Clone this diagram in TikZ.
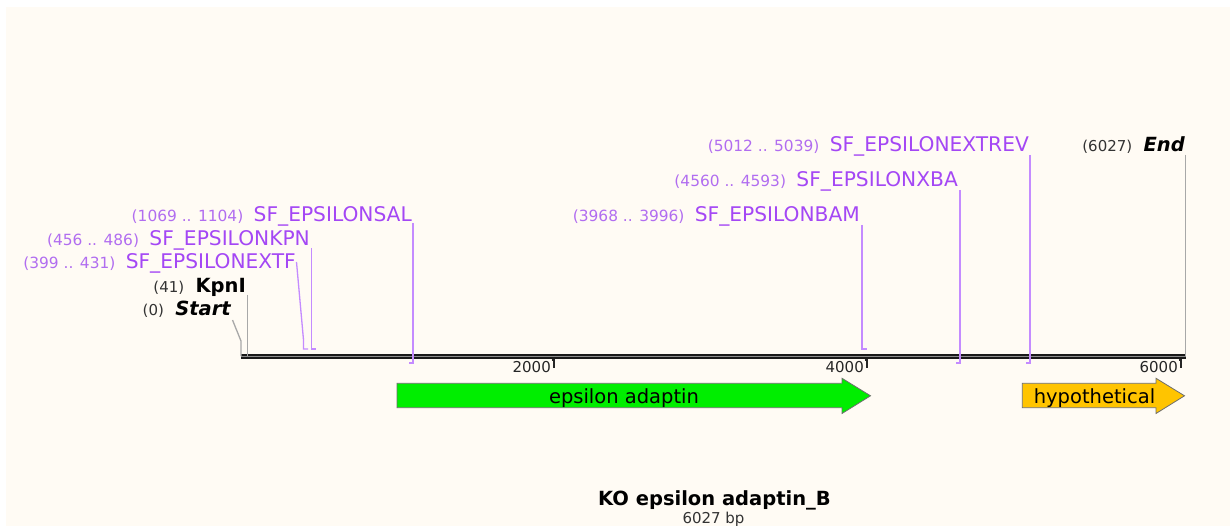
\documentclass[tikz,border=0pt]{standalone}
\usepackage{fontspec}
\setmainfont{DejaVu Sans}
\usepackage{tikz}
\usetikzlibrary{positioning}
\usetikzlibrary{calc}
\definecolor{bgcream}{HTML}{FFFBF4}
\definecolor{primername}{HTML}{A447F4}
\definecolor{primernum}{HTML}{B16DF0}
\definecolor{primerstroke}{HTML}{C48BFF}
\definecolor{sitegray}{HTML}{A8A8A8}
\definecolor{genegreen}{HTML}{00EE00}
\definecolor{genegold}{HTML}{FFC400}
\definecolor{geneedge}{HTML}{6E6E6E}

\tikzset{
  bigtxt/.style={inner sep=0pt, font=\fontsize{19.5}{22}\selectfont},
  smalltxt/.style={inner sep=0pt, font=\fontsize{15}{18}\selectfont},
  pname/.style={inner sep=0pt, font=\fontsize{20.2}{22}\selectfont, text=primername, anchor=base east},
  pnum/.style={inner sep=0pt, font=\fontsize{15.4}{18}\selectfont, text=primernum, anchor=base east},
  snum/.style={smalltxt, text=black!80, anchor=base east},
  sname/.style={bigtxt, font=\fontsize{19.5}{22}\selectfont\bfseries, anchor=base east},
  pline/.style={draw=primerstroke, line width=1.3pt},
  sline/.style={draw=sitegray, line width=1.3pt},
  gene/.style={draw=geneedge, line width=0.8pt},
  ticklbl/.style={smalltxt, text=black!85, anchor=base east}
}

\begin{document}
\begin{tikzpicture}[x=1pt,y=-1pt]
\useasboundingbox (0,0) rectangle (1230,526);
\fill[white] (0,0) rectangle (1230,526);
\fill[bgcream] (6,7) rectangle (1230,526);

% sequence
\coordinate (seqL) at (241,356.5);
\coordinate (seqR) at (1186,356.5);
\draw[line width=5.8pt, black!90] (seqL) -- (seqR);
\draw[line width=1.3pt, black!45] (seqL) -- (seqR);

% ticks
\foreach \tx/\tl in {554/2000, 867/4000, 1181/6000}{
  \draw[line width=1.2pt, black!85] (\tx-2.5,360) -- (\tx,360) -- (\tx,368);
  \node[ticklbl] (tick\tl) at (\tx-3,372) {\tl};
}

% sites
\path
(231,315) node [sname, font=\fontsize{19.5}{22}\selectfont\bfseries\itshape] (start) {Start}
(246,292) node [sname] (kpni) {KpnI}
(1185,152) node [sname, font=\fontsize{19.5}{22}\selectfont\bfseries\itshape] (end) {End};
\node [snum, left=11pt of start.base west, anchor=base east] (startnum) {(0)};
\node [snum, left=11pt of kpni.base west, anchor=base east] (kpninum) {(41)};
\node [snum, left=11pt of end.base west, anchor=base east] (endnum) {(6027)};

\coordinate (starttop) at (232.5,320);
\coordinate (startbend) at (241,341);
\coordinate (startfoot) at (241,356);
\coordinate (kpnitop) at (247.3,295);
\coordinate (kpnifoot) at (247.3,356);
\coordinate (endtop) at (1185.8,155);
\coordinate (endfoot) at (1185.8,356);
\draw [sline] (starttop) -- (startbend) -- (startfoot);
\draw [sline] (kpnitop) -- (kpnifoot);
\draw [sline] (endtop) -- (endfoot);

% primers
\path
(296,269) node [pname] (extf) {SF\_EPSILONEXTF}
(310,246) node [pname] (kpn) {SF\_EPSILONKPN}
(412,222) node [pname] (sal) {SF\_EPSILONSAL}
(860,222) node [pname] (bam) {SF\_EPSILONBAM}
(958,187) node [pname] (xba) {SF\_EPSILONXBA}
(1029,152) node [pname] (extrev) {SF\_EPSILONEXTREV};
\foreach \pn/\pt in {extf/(399 .. 431), kpn/(456 .. 486), sal/(1069 .. 1104),
                     bam/(3968 .. 3996), xba/(4560 .. 4593), extrev/(5012 .. 5039)}{
  \node [pnum, left=10pt of \pn.base west, anchor=base east] (\pn num) {\pt};
}

\coordinate (extftop) at (296.5,262);
\coordinate (extfbend) at (303.5,340);
\coordinate (extffoot) at (303.5,349);
\coordinate (extftick) at (308,349);
\draw [pline] (extftop) -- (extfbend) -- (extffoot) -- (extftick);
\coordinate (kpntop) at (311.5,248);
\coordinate (kpnfoot) at (311.5,349);
\coordinate (kpntick) at (316,349);
\draw [pline] (kpntop) -- (kpnfoot) -- (kpntick);
\coordinate (saltop) at (413,223);
\coordinate (salfoot) at (413,363);
\coordinate (saltick) at (408.5,363);
\draw [pline] (saltop) -- (salfoot) -- (saltick);
\coordinate (bamtop) at (862,225);
\coordinate (bamfoot) at (862,349);
\coordinate (bamtick) at (866.5,349);
\draw [pline] (bamtop) -- (bamfoot) -- (bamtick);
\coordinate (xbatop) at (960,190);
\coordinate (xbafoot) at (960,363);
\coordinate (xbatick) at (955.5,363);
\draw [pline] (xbatop) -- (xbafoot) -- (xbatick);
\coordinate (extrevtop) at (1030,155);
\coordinate (extrevfoot) at (1030,363);
\coordinate (extrevtick) at (1025.5,363);
\draw [pline] (extrevtop) -- (extrevfoot) -- (extrevtick);

% genes
\draw [gene, fill=genegreen] (397,383.3) -- (842,383.3) -- (842,378.3) -- (870.5,395.8)
  -- (842,413.5) -- (842,407.7) -- (397,407.7) -- cycle;
\node [bigtxt, anchor=base] (adaptin) at (624,403) {epsilon adaptin};
\draw [gene, fill=genegold] (1022.3,383.3) -- (1156,383.3) -- (1156,378.3) -- (1184.5,395.8)
  -- (1156,413.5) -- (1156,407.7) -- (1022.3,407.7) -- cycle;
\node [bigtxt, anchor=base] (hypo) at (1094.5,403) {hypothetical};

% title
\node [bigtxt, font=\fontsize{19.5}{22}\selectfont\bfseries, anchor=base] (title) at (714.5,505) {KO epsilon adaptin\_B};
\node [smalltxt, text=black!80, anchor=base] (length) at (713.5,523) {6027 bp};

\end{tikzpicture}
\end{document}
